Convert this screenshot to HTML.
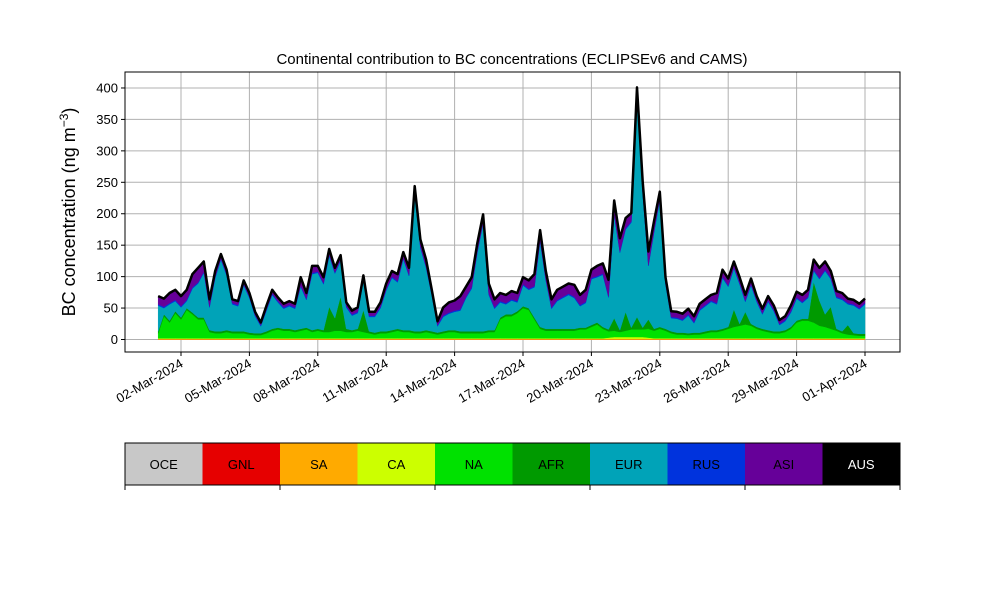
<!DOCTYPE html>
<html><head><meta charset="utf-8"><style>
html,body{margin:0;padding:0;background:#fff;}
svg{display:block;font-family:"Liberation Sans",sans-serif;}
</style></head><body>
<svg id="chart" width="1000" height="600" viewBox="0 0 1000 600">
<rect width="1000" height="600" fill="#fff"/>
<text x="512" y="64" font-size="15" text-anchor="middle">Continental contribution to BC concentrations (ECLIPSEv6 and CAMS)</text>
<text transform="translate(75,212) rotate(-90)" font-size="18" text-anchor="middle">BC concentration (ng m<tspan font-size="12" dy="-7">−3</tspan><tspan dy="7">)</tspan></text>
<g id="grid"></g>
<g id="layers"></g>
<g id="axes"></g>
<g id="cbar"></g>
</svg>
<script>
const seriesNames = ["OCE","GNL","SA","CA","NA","AFR","EUR","RUS","ASI","AUS"];
const seriesColors = ["#c8c8c8","#e60000","#ffaa00","#ccff00","#00e100","#009a00","#00a3b8","#0033dd","#660099","#000000"];
const yTicks = [0,50,100,150,200,250,300,350,400];
const xTickDays = [1,4,7,10,13,16,19,22,25,28,31];
const xTickLabels = ["02-Mar-2024","05-Mar-2024","08-Mar-2024","11-Mar-2024","14-Mar-2024","17-Mar-2024","20-Mar-2024","23-Mar-2024","26-Mar-2024","29-Mar-2024","01-Apr-2024"];
const OCE = [0,0,0,0,0,0,0,0,0,0,0,0,0,0,0,0,0,0,0,0,0,0,0,0,0,
0,0,0,0,0,0,0,0,0,0,0,0,0,0,0,0,0,0,0,0,0,0,0,0,0,
0,0,0,0,0,0,0,0,0,0,0,0,0,0,0,0,0,0,0,0,0,0,0,0,0,
0,0,0,0,0,0,0,0,0,0,0,0,0,0,0,0,0,0,0,0,0,0,0,0,0,
0,0,0,0,0,0,0,0,0,0,0,0,0,0,0,0,0,0,0,0,0,0,0,0,0];
const GNL = [0,0,0,0,0,0,0,0,0,0,0,0,0,0,0,0,0,0,0,0,0,0,0,0,0,
0,0,0,0,0,0,0,0,0,0,0,0,0,0,0,0,0,0,0,0,0,0,0,0,0,
0,0,0,0,0,0,0,0,0,0,0,0,0,0,0,0,0,0,0,0,0,0,0,0,0,
0,0,0,0,0,0,0,0,0,0,0,0,0,0,0,0,0,0,0,0,0,0,0,0,0,
0,0,0,0,0,0,0,0,0,0,0,0,0,0,0,0,0,0,0,0,0,0,0,0,0];
const SA = [1,1,1,1,1,1,1,1,1,1,1,1,1,1,1,1,1,1,1,1,1,1,1,1,1,
1,1,1,1,1,1,1,1,1,1,1,1,1,1,1,1,1,1,1,1,1,1,1,1,1,
1,1,1,1,1,1,1,1,1,1,1,1,1,1,1,1,1,1,1,1,1,1,1,1,1,
1,1,1,1,1,1,1,1,1,1,1,1,1,1,1,1,1,1,1,1,1,1,1,1,1,
1,1,1,1,1,1,1,1,1,1,1,1,1,1,1,1,1,1,1,1,1,1,1,1,1];
const CA = [1,1,1,1,1,1,1,1,1,1,1,1,1,1,1,1,1,1,1,1,1,1,1,1,1,
1,1,1,1,1,1,1,1,1,1,1,1,1,1,1,1,1,1,1,1,1,1,1,1,1,
1,1,1,1,1,1,1,1,1,1,1,1,1,1,1,1,1,1,1,1,1,1,1,1,1,
1,1,1,1,2,3,3,3,3,3,3,2,1,1,1,1,1,1,1,1,1,1,1,1,1,
1,1,1,1,1,1,1,1,1,1,1,1,1,1,1,1,1,1,1,1,1,1,1,1,1];
const NA = [8,35,25,40,30,45,38,30,30,10,8,8,10,8,8,8,6,5,5,8,12,14,12,12,
10,12,14,10,12,10,10,12,12,10,10,12,10,8,6,8,
8,10,12,10,10,8,8,10,8,6,8,10,10,8,8,8,8,8,10,10,
30,35,35,40,48,45,30,15,12,12,12,12,12,12,14,14,18,22,15,10,
10,8,10,12,12,12,14,12,15,12,8,6,6,5,6,6,8,10,10,12,
15,18,20,22,20,15,12,10,8,8,10,15,25,28,28,25,20,18,15,12,8,6,5,4,4];
const AFR = [3,3,3,3,3,3,3,3,3,3,3,3,3,3,3,3,3,3,3,3,3,3,3,3,
3,3,3,3,3,3,40,20,55,5,3,3,35,3,3,3,
3,3,3,3,3,3,3,3,3,3,3,3,3,3,3,3,3,3,3,3,
3,3,3,3,3,3,3,3,3,3,3,3,3,3,3,3,3,3,3,3,
20,3,30,3,20,3,15,3,3,3,3,3,3,3,3,3,3,3,3,3,
3,28,3,20,3,3,3,3,3,3,3,3,3,3,3,65,40,20,35,3,3,15,3,3,3];
const EUR = [41,10,26,16,16,11,38,54,71,36,85,114,87,43,40,73,55,27,11,33,54,40,32,36,
34,67,44,89,89,73,81,71,56,34,23,25,47,23,25,37,
65,83,74,113,86,218,133,99,57,10,23,26,29,33,53,68,126,171,56,34,
24,16,22,14,33,29,48,136,77,32,44,49,54,49,34,39,73,72,83,51,
164,123,131,167,352,214,85,154,202,71,21,22,19,28,15,35,40,45,41,81,
64,65,63,16,61,40,23,45,32,10,14,23,35,25,33,17,34,69,44,49,50,33,44,39,47];
const RUS = [2,2,2,2,2,2,2,2,2,2,2,2,2,2,2,2,2,2,2,2,2,2,2,2,2,
2,2,2,2,2,2,2,2,2,2,2,2,2,2,2,2,2,2,2,2,2,2,2,2,2,
2,2,2,2,2,2,2,2,2,2,2,2,2,2,2,2,2,2,2,2,2,2,2,2,2,
2,2,2,2,2,2,2,2,2,2,2,2,2,2,2,2,2,2,2,2,2,2,2,2,2,
2,2,2,2,2,2,2,2,2,2,2,2,2,2,2,2,2,2,2,2,2,2,2,2,2];
const ASI = [12,12,15,15,15,15,20,22,15,10,8,6,6,5,5,5,5,4,3,5,5,5,5,5,
5,12,8,10,8,8,8,6,6,5,5,6,5,5,5,6,
8,8,10,8,10,10,10,10,6,5,12,15,15,20,15,15,12,12,15,12,
12,12,12,12,10,12,18,15,12,12,15,15,15,18,15,18,12,15,15,25,
20,20,15,12,10,15,20,15,10,8,8,8,8,8,8,8,8,8,15,10,
10,8,8,8,8,6,6,6,6,5,5,8,8,10,10,15,15,12,10,8,8,6,6,6,6];
const AUS = [1,1,1,1,1,1,1,1,1,1,1,1,1,1,1,1,1,1,1,1,1,1,1,1,1,
1,1,1,1,1,1,1,1,1,1,1,1,1,1,1,1,1,1,1,1,1,1,1,1,1,
1,1,1,1,1,1,1,1,1,1,1,1,1,1,1,1,1,1,1,1,1,1,1,1,1,
1,1,1,1,1,1,1,1,1,1,1,1,1,1,1,1,1,1,1,1,1,1,1,1,1,
1,1,1,1,1,1,1,1,1,1,1,1,1,1,1,1,1,1,1,1,1,1,1,1,1];

const NS='http://www.w3.org/2000/svg';
const PL=125, PR=900, PT=72, PB=352;
function yScale(v){ return 339.5 - v*0.6288; }
function xDay(d){ return 158.2 + 22.8*d; }
function xIdx(i){ return xDay(i/4); }
function mk(tag, attrs, parent){ const e=document.createElementNS(NS,tag); for(const k in attrs) e.setAttribute(k, attrs[k]); parent.appendChild(e); return e; }

const grid=document.getElementById('grid');
yTicks.forEach(v=>{
  const l=mk('line',{x1:PL,x2:PR,y1:yScale(v),y2:yScale(v),stroke:'#b0b0b0','stroke-width':1},grid);
  
  
});
xTickDays.forEach(d=>{
  const l=mk('line',{x1:xDay(d),x2:xDay(d),y1:PT,y2:PB,stroke:'#b0b0b0','stroke-width':1},grid);
  
  
});

const all=[OCE,GNL,SA,CA,NA,AFR,EUR,RUS,ASI,AUS];
const n=NA.length;
const layers=document.getElementById('layers');
let base=new Array(n).fill(0);
all.forEach((arr,si)=>{
  const top=base.map((b,i)=>b+arr[i]);
  let pts=[];
  for(let i=0;i<n;i++) pts.push(xIdx(i).toFixed(1)+','+yScale(top[i]).toFixed(1));
  for(let i=n-1;i>=0;i--) pts.push(xIdx(i).toFixed(1)+','+yScale(base[i]).toFixed(1));
  const p=mk('polygon',{points:pts.join(' '),fill:seriesColors[si],stroke:seriesColors[si],'stroke-width':0.5},layers);
  
  
  base=top;
});
const tl=mk('polyline',{points:base.map((v,i)=>xIdx(i).toFixed(1)+','+yScale(v).toFixed(1)).join(' '),fill:'none',stroke:'#000','stroke-width':2.5,'stroke-linejoin':'round'},layers);



const axes=document.getElementById('axes');
const fr=mk('rect',{x:PL,y:PT,width:PR-PL,height:PB-PT,fill:'none',stroke:'#000','stroke-width':1},axes);


yTicks.forEach(v=>{
  mk('line',{x1:PL-4,x2:PL,y1:yScale(v),y2:yScale(v),stroke:'#000'},axes);
  const t=mk('text',{x:PL-7,y:yScale(v)+4.5,'font-size':13,'text-anchor':'end'},axes);
  t.textContent=v;
  
  
});
xTickDays.forEach((d,k)=>{
  const x=xDay(d);
  mk('line',{x1:x,x2:x,y1:PB,y2:PB+4,stroke:'#000'},axes);
  const t=mk('text',{x:0,y:0,'font-size':13,'text-anchor':'end',transform:'translate('+(x+3)+','+(PB+14)+') rotate(-30)'},axes);
  t.textContent=xTickLabels[k];
  
  
});

const cb=document.getElementById('cbar');
const cw=77.5;
seriesNames.forEach((nm,k)=>{
  const r=mk('rect',{x:125+k*cw,y:443,width:cw+0.5,height:42,fill:seriesColors[k]},cb);
  
  
  const t=mk('text',{x:125+k*cw+cw/2,y:469,'font-size':13,'text-anchor':'middle',fill:nm==='AUS'?'#fff':'#000'},cb);
  t.textContent=nm;
  
  
});
mk('rect',{x:125,y:443,width:775,height:42,fill:'none',stroke:'#000','stroke-width':1},cb);
[0,2,4,6,8,10].forEach(k=>{
  mk('line',{x1:125+k*cw,x2:125+k*cw,y1:485,y2:490,stroke:'#000'},cb);
});
</script>
</body></html>
